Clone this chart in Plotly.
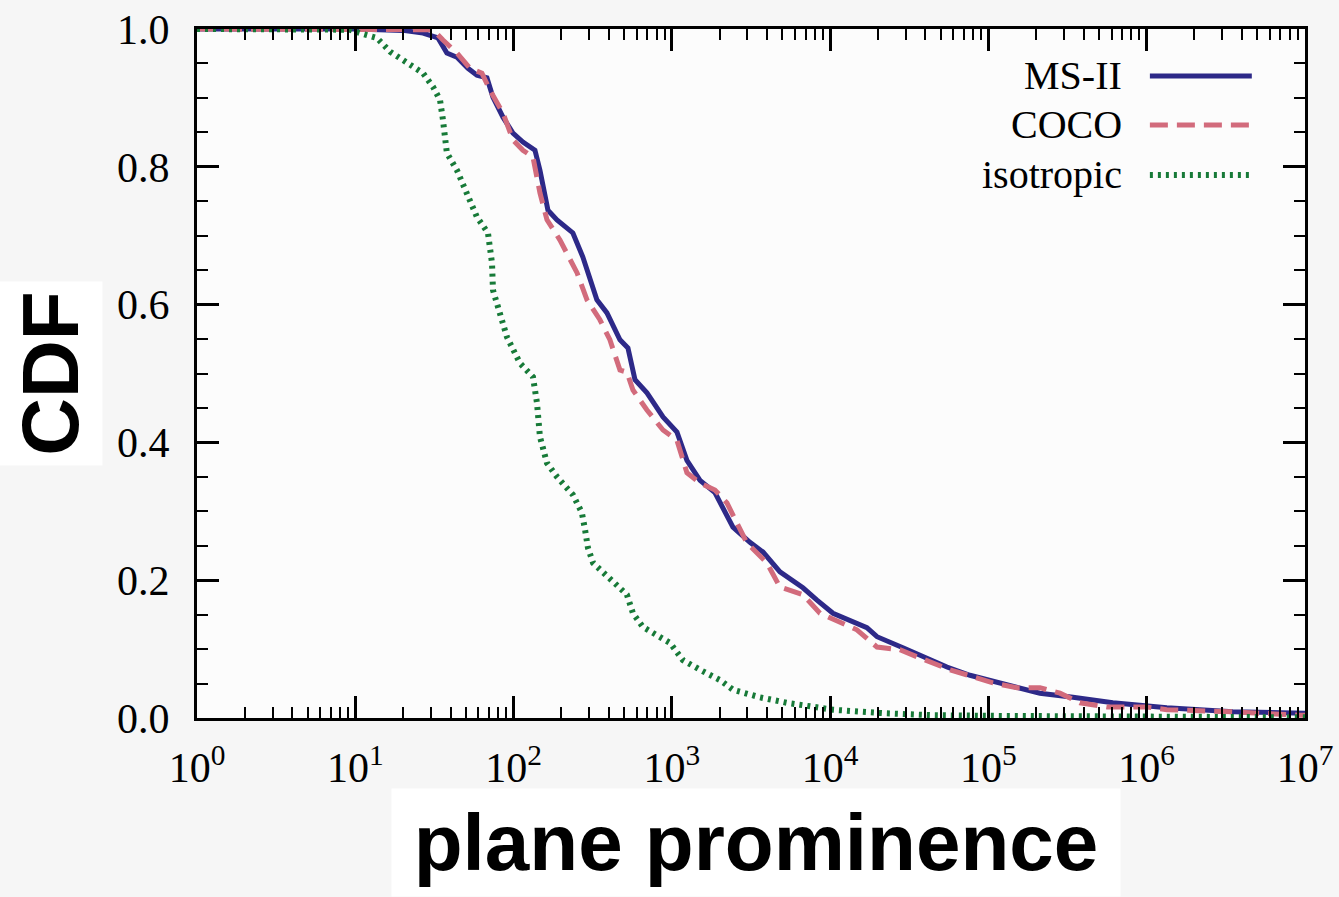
import plotly.graph_objects as go

# ---------------- data ----------------
ms2_x = [1, 10, 20, 26.8, 33.3, 37.9, 43.9, 51.5, 58.7, 67.9, 74.1, 85.7, 99.1, 114.6, 136.5,
         146.8, 164.9, 188, 237, 274, 336, 389, 470, 528, 585, 696, 879, 1077, 1245, 1506,
         1871, 2432, 3113, 3760, 4820, 6730, 8260, 10420, 17070, 19770, 28840, 54700, 76400,
         118300, 211500, 342000, 611000, 1340000, 3500000, 10000000]
ms2_y = [1.0, 1.0, 0.998, 0.994, 0.987, 0.965, 0.959, 0.943, 0.933, 0.929, 0.901, 0.872, 0.849,
         0.836, 0.824, 0.795, 0.737, 0.723, 0.704, 0.669, 0.607, 0.588, 0.549, 0.537, 0.491,
         0.472, 0.437, 0.415, 0.374, 0.345, 0.327, 0.277, 0.255, 0.241, 0.212, 0.189, 0.171,
         0.152, 0.131, 0.118, 0.102, 0.074, 0.062, 0.051, 0.036, 0.030, 0.022, 0.015, 0.009,
         0.007]

coco_x = [1, 10, 31, 35.8, 43.9, 53, 63.1, 71, 85.7, 99.1, 114.6, 132.6, 146.8, 162.6, 196,
          252, 291, 351, 406, 470, 520, 568, 696, 879, 1077, 1245, 1506, 1871, 2230, 2980,
          3990, 4820, 6730, 8620, 11530, 14760, 19770, 27600, 35300, 57100, 79800, 106700,
          151400, 211500, 283000, 378000, 561000, 1000000, 1340000, 3500000, 9300000, 10000000]
coco_y = [1.0, 1.0, 0.999, 0.984, 0.965, 0.943, 0.936, 0.911, 0.878, 0.839, 0.824, 0.814,
          0.762, 0.723, 0.694, 0.646, 0.607, 0.578, 0.549, 0.505, 0.502, 0.476, 0.447, 0.418,
          0.403, 0.356, 0.341, 0.331, 0.312, 0.254, 0.225, 0.190, 0.179, 0.152, 0.139, 0.128,
          0.103, 0.099, 0.089, 0.070, 0.060, 0.051, 0.044, 0.044, 0.036, 0.022, 0.016, 0.016,
          0.012, 0.009, 0.004, 0.004]

iso_x = [1, 9.26, 10.7, 13.7, 16.6, 21.2, 26.8, 31.0, 34.3, 35.8, 37.9, 43.9, 50.8, 58.7,
         68.9, 73.1, 74.1, 82.0, 90.8, 109.7, 132.6, 140.6, 146.8, 162.6, 188, 237, 270, 283,
         295, 318, 389, 520, 568, 657, 973, 1175, 1506, 2014, 2432, 3604, 5336, 8260, 10420,
         21570, 44600, 118000, 10000000]
iso_y = [1.0, 0.999, 0.994, 0.987, 0.967, 0.951, 0.936, 0.916, 0.897, 0.868, 0.820, 0.795,
         0.762, 0.727, 0.704, 0.660, 0.621, 0.588, 0.553, 0.515, 0.495, 0.457, 0.408, 0.370,
         0.350, 0.324, 0.298, 0.273, 0.247, 0.225, 0.205, 0.179, 0.152, 0.132, 0.109, 0.084,
         0.070, 0.055, 0.041, 0.030, 0.022, 0.016, 0.012, 0.007, 0.004, 0.003, 0.001]

series_names = ["MS-II", "COCO", "isotropic"]
series_colors = ["#2d2988", "#d26b7c", "#177a38"]
series_dashes = ["solid", "18px,9px", "3px,5px"]
series_widths = [5, 5, 6]

x_tick_vals = [1, 10, 100, 1000, 10000, 100000, 1000000, 10000000]
x_tick_text = ["10<sup>0</sup>", "10<sup>1</sup>", "10<sup>2</sup>", "10<sup>3</sup>",
               "10<sup>4</sup>", "10<sup>5</sup>", "10<sup>6</sup>", "10<sup>7</sup>"]
y_tick_vals = [0.0, 0.2, 0.4, 0.6, 0.8, 1.0]
y_tick_text = ["0.0", "0.2", "0.4", "0.6", "0.8", "1.0"]

# ---------------- figure ----------------
fig = go.Figure()
xs = [ms2_x, coco_x, iso_x]
ys = [ms2_y, coco_y, iso_y]
for name, col, dash, w, x, y in zip(series_names, series_colors, series_dashes, series_widths, xs, ys):
    fig.add_trace(go.Scatter(x=x, y=y, mode="lines", name=name, showlegend=False,
                             line=dict(color=col, width=w, dash=dash)))

serif = "Liberation Serif, Times New Roman, serif"
sans = "Liberation Sans, Arial, Helvetica, sans-serif"

axis_common = dict(showline=True, linewidth=3, linecolor="black", mirror="allticks",
                   ticks="inside", ticklen=22, tickwidth=3, tickcolor="black",
                   showgrid=False, zeroline=False, automargin=False,
                   tickfont=dict(family=serif, size=42, color="black"))

fig.update_xaxes(type="log", range=[0, 7], tickvals=x_tick_vals, ticktext=x_tick_text,
                 ticklabelstandoff=11,
                 minor=dict(ticks="inside", ticklen=11, tickwidth=2, tickcolor="black",
                            dtick="D1", showgrid=False),
                 **axis_common)
fig.update_yaxes(range=[0, 1], tickvals=y_tick_vals, ticktext=y_tick_text,
                 ticklabelstandoff=16,
                 minor=dict(ticks="inside", ticklen=11, tickwidth=2, tickcolor="black",
                            dtick=0.05, showgrid=False),
                 **axis_common)

# legend drawn manually (text right-aligned, sample to the right)
leg_y = [0.9318, 0.8607, 0.7881]
for name, col, dash, w, yy in zip(series_names, series_colors, series_dashes, series_widths, leg_y):
    fig.add_annotation(x=0.8365, y=yy, xref="paper", yref="paper", text=name,
                       showarrow=False, xanchor="right", yanchor="middle",
                       font=dict(family=serif, size=40, color="black"))
    fig.add_shape(type="line", xref="paper", yref="paper", x0=0.860, x1=0.952, y0=yy, y1=yy,
                  line=dict(color=col, width=w, dash=dash))

# axis titles with white boxes
fig.add_annotation(x=-0.1318, y=0.5007, xref="paper", yref="paper", text="<b>CDF</b>",
                   showarrow=False, textangle=-90, bgcolor="white", borderpad=0,
                   xanchor="center", yanchor="middle", width=183, height=102,
                   font=dict(family=sans, size=80, color="black"))
fig.add_annotation(x=0.5045, y=-0.1814, xref="paper", yref="paper",
                   text="<b>plane prominence</b>", showarrow=False, bgcolor="white",
                   borderpad=0, xanchor="center", yanchor="middle", width=728, height=107,
                   font=dict(family=sans, size=80, color="black"))

fig.update_layout(width=1339, height=897,
                  margin=dict(l=197, r=34, t=29, b=179),
                  paper_bgcolor="#f6f6f6", plot_bgcolor="#fcfcfc",
                  showlegend=False)

fig.write_html("out.html")
